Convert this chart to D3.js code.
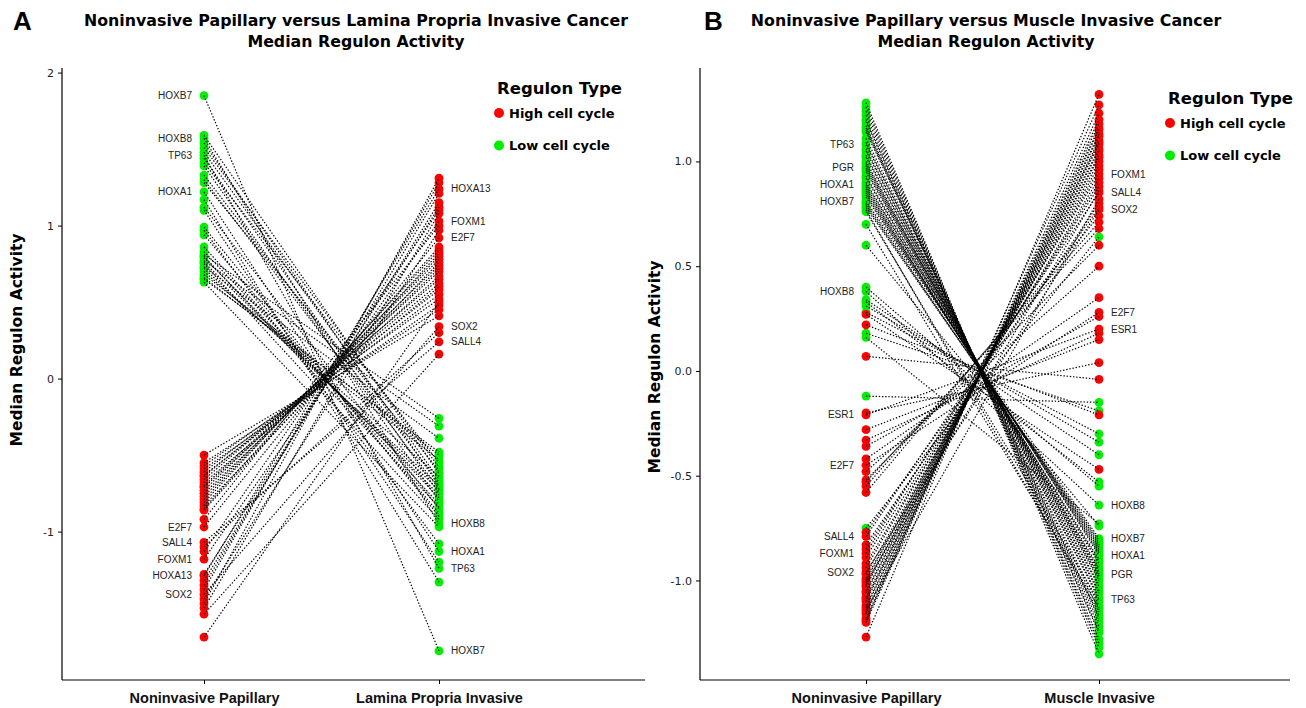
<!DOCTYPE html>
<html>
<head>
<meta charset="utf-8">
<script src="https://cdn.jsdelivr.net/npm/d3@7/dist/d3.min.js"></script>
<style>
  body { margin: 0; background: #fff; }
  svg { display: block; font-family: "DejaVu Sans", Verdana, sans-serif; }
</style>
</head>
<body>
<div id="chart"></div>
<script>
// ---- Panel A : Noninvasive Papillary vs Lamina Propria Invasive ----
var catsA = ["Noninvasive Papillary", "Lamina Propria Invasive"];

// low cell cycle regulons (green)
var aLowNames = ["HOXB7","","HOXB8","","","","TP63","","","","","","","HOXA1","","","","","","","","","","","","","","","","","","","","",""];
var aLowNP = [1.85,1.59,1.57,1.54,1.51,1.48,1.46,1.44,1.41,1.39,1.33,1.30,1.28,1.22,1.17,1.12,1.10,0.99,0.97,0.94,0.86,0.83,0.81,0.80,0.79,0.77,0.76,0.75,0.73,0.72,0.70,0.68,0.66,0.65,0.63];
var aLowLP = [-1.78,-0.62,-0.95,-0.70,-0.58,-0.66,-1.24,-0.75,-0.55,-0.80,-0.68,-0.72,-0.60,-1.13,-1.33,-0.85,-1.20,-0.90,-1.08,-0.88,-0.82,-0.78,-0.26,-0.84,-0.76,-0.31,-0.73,-0.92,-0.39,-0.70,-0.64,-0.50,-0.53,-0.48,-0.97];

// high cell cycle regulons (red)
var aHighNames = ["","","","","","","","","","","","","","","","","","","","","E2F7","SALL4","","","FOXM1","","HOXA13","","","","SOX2","","","","",""];
var aHighNP = [-0.50,-0.55,-0.57,-0.59,-0.61,-0.63,-0.64,-0.66,-0.68,-0.70,-0.71,-0.73,-0.75,-0.77,-0.79,-0.81,-0.83,-0.85,-0.86,-0.92,-0.97,-1.07,-1.10,-1.13,-1.18,-1.28,-1.29,-1.32,-1.35,-1.38,-1.41,-1.44,-1.47,-1.50,-1.54,-1.69];
var aHighLP = [0.41,0.45,0.52,0.48,0.58,0.55,0.62,0.65,0.60,0.70,0.67,0.74,0.72,0.78,0.80,0.84,0.76,0.86,0.82,1.00,0.92,0.24,0.30,1.10,1.03,1.12,1.24,1.15,1.21,1.28,0.34,0.97,1.31,1.08,0.16,0.50];

var aTicks = [-1, 0, 1, 2];

// ---- Panel B : Noninvasive Papillary vs Muscle Invasive ----
var catsB = ["Noninvasive Papillary", "Muscle Invasive"];

var bLowNames = ["","","","","","","","","","","","","TP63","","","","","","","","PGR","","","","","","HOXA1","","","","","","","HOXB7","","","","","","","","HOXB8","","","","","","","","",""];
var bLowNP = [1.28,1.26,1.24,1.22,1.20,1.19,1.17,1.16,1.15,1.14,1.11,1.09,1.08,1.06,1.05,1.03,1.02,1.00,0.99,0.98,0.97,0.96,0.95,0.93,0.92,0.90,0.89,0.88,0.87,0.86,0.85,0.84,0.83,0.81,0.80,0.79,0.78,0.77,0.76,0.70,0.60,0.38,0.40,0.34,0.33,0.31,0.28,0.18,0.16,-0.12,-0.75];
var bLowMI = [-1.35,-1.32,-1.30,-1.28,-1.25,-1.24,-1.22,-1.20,-1.18,-1.17,-1.14,-1.12,-1.09,-1.08,-1.06,-1.05,-1.03,-1.02,-1.00,-0.99,-0.97,-0.98,-0.96,-0.95,-0.94,-0.92,-0.88,-0.91,-0.90,-0.87,-0.86,-0.85,-0.84,-0.80,-0.83,-0.82,-0.81,-1.15,-1.10,-1.13,-0.74,-0.64,-0.55,-0.40,-0.53,-0.34,-0.30,-0.19,-0.73,-0.15,0.64];

var bHighNames = ["","","","","ESR1","","","","","E2F7","","","","","","","SALL4","","","FOXM1","","","","SOX2","","","","","","","","","","","","","","","","","","",""];
var bHighNP = [0.27,0.22,0.07,-0.20,-0.21,-0.28,-0.33,-0.36,-0.42,-0.45,-0.48,-0.52,-0.53,-0.55,-0.58,-0.77,-0.79,-0.83,-0.85,-0.87,-0.89,-0.92,-0.94,-0.96,-0.97,-0.99,-1.00,-1.01,-1.02,-1.03,-1.05,-1.06,-1.08,-1.09,-1.10,-1.12,-1.13,-1.14,-1.15,-1.16,-1.18,-1.19,-1.20,-1.27];
var bHighMI = [-0.47,-0.21,-0.04,0.04,0.20,0.15,0.18,0.26,0.35,0.28,0.50,0.60,0.68,0.71,0.74,0.78,0.85,0.80,0.88,0.94,0.90,0.92,0.96,0.77,0.98,1.00,1.02,0.86,1.03,1.05,1.06,1.08,1.09,1.10,1.12,1.13,1.15,0.82,1.16,1.18,1.20,1.27,1.23,1.32];

var bTicks = [-1, -0.5, 0, 0.5, 1];

var legendItems = ["High cell cycle", "Low cell cycle"];
var colors = { "High cell cycle": "#ff0000", "Low cell cycle": "#00ee00" };

var width = 1306, height = 708;
var svg = d3.select("#chart").append("svg")
    .attr("width", width)
    .attr("height", height);

function toRows(names, v1, v2, type) {
    return v1.map(function(d, i) {
        return { name: names[i] || "", a: d, b: v2[i], type: type };
    });
}

// ggplot style labels use a plain hyphen for negatives
function hyphen(f) {
    return function(d) { return f(d).replace("\u2212", "-"); };
}

function drawPanel(p) {
    var g = svg.append("g");
    var top = 68, bottom = 680;

    var x = d3.scalePoint().domain(p.cats).range([p.px0, p.px1]);
    var y = d3.scaleLinear().domain(p.yDomain).range([bottom, top]);

    // y axis
    var yAxis = d3.axisLeft(y).tickValues(p.ticks).tickFormat(hyphen(p.fmt)).tickSize(4).tickSizeOuter(0).tickPadding(4);
    var ya = g.append("g").attr("transform", "translate(" + p.left + ",0)").call(yAxis);
    ya.select(".domain").remove();
    ya.selectAll("text").style("font-size", "11px").style("fill", "#222").style("font-family", "DejaVu Sans, sans-serif");

    // x axis
    var xAxis = d3.axisBottom(x).tickSize(4).tickSizeOuter(0).tickPadding(9);
    var xa = g.append("g").attr("transform", "translate(0," + bottom + ")").call(xAxis);
    xa.select(".domain").remove();
    xa.selectAll("text").style("font-size", "14.5px").style("font-weight", "bold").style("fill", "#111");

    g.append("line").attr("x1", p.left).attr("x2", p.left).attr("y1", top).attr("y2", bottom)
        .attr("stroke", "#000").attr("stroke-width", 1.2);
    g.append("line").attr("x1", p.left).attr("x2", p.right).attr("y1", bottom).attr("y2", bottom)
        .attr("stroke", "#000").attr("stroke-width", 1.2);

    var rows = p.rows;
    var c0 = x(p.cats[0]), c1 = x(p.cats[1]);

    // points
    g.append("g").selectAll("circle").data(rows).enter().append("circle")
        .attr("cx", c0).attr("cy", function(d) { return y(d.a); })
        .attr("r", 4.4).attr("fill", function(d) { return colors[d.type]; });
    g.append("g").selectAll("circle").data(rows).enter().append("circle")
        .attr("cx", c1).attr("cy", function(d) { return y(d.b); })
        .attr("r", 4.4).attr("fill", function(d) { return colors[d.type]; });

    // dotted connecting lines
    g.append("g").selectAll("line").data(rows).enter().append("line")
        .attr("x1", c0).attr("y1", function(d) { return y(d.a); })
        .attr("x2", c1).attr("y2", function(d) { return y(d.b); })
        .attr("stroke", "#000").attr("stroke-width", 1.2)
        .attr("stroke-dasharray", "1.4,1.8");

    // labels
    var lab = rows.filter(function(d) { return d.name !== ""; });
    g.append("g").selectAll("text").data(lab).enter().append("text")
        .attr("x", c0 - 12).attr("y", function(d) { return y(d.a); })
        .attr("dy", "0.35em").attr("text-anchor", "end")
        .style("font-family", "Liberation Sans, Arial, sans-serif").style("font-size", "10px").style("fill", "#222")
        .text(function(d) { return d.name; });
    g.append("g").selectAll("text").data(lab).enter().append("text")
        .attr("x", c1 + 12).attr("y", function(d) { return y(d.b); })
        .attr("dy", "0.35em").attr("text-anchor", "start")
        .style("font-family", "Liberation Sans, Arial, sans-serif").style("font-size", "10px").style("fill", "#222")
        .text(function(d) { return d.name; });

    // y title
    g.append("text")
        .attr("transform", "translate(" + p.yTitleX + "," + p.yTitleY + ") rotate(-90)")
        .attr("text-anchor", "middle")
        .style("font-size", "15.5px").style("font-weight", "bold")
        .text("Median Regulon Activity");

    // title
    g.append("text").attr("x", p.titleX).attr("y", 26).attr("text-anchor", "middle")
        .style("font-size", "15.8px").style("font-weight", "bold").text(p.title);
    g.append("text").attr("x", p.titleX).attr("y", 47).attr("text-anchor", "middle")
        .style("font-size", "15.8px").style("font-weight", "bold").text("Median Regulon Activity");

    // panel letter
    g.append("text").attr("x", p.letterX).attr("y", 30)
        .style("font-size", "26px").style("font-weight", "bold")
        .style("font-family", "Liberation Sans, Arial, sans-serif").text(p.letter);

    // legend
    var lg = g.append("g").attr("transform", "translate(" + p.legX + "," + p.legY + ")");
    lg.append("text").attr("x", 0).attr("y", 3)
        .style("font-size", "16.5px").style("font-weight", "bold").text("Regulon Type");
    var li = lg.selectAll("g.item").data(legendItems).enter().append("g")
        .attr("transform", function(d, i) { return "translate(0," + (22 + i * 32.5) + ")"; });
    li.append("circle").attr("cx", 2).attr("cy", 0).attr("r", 5).attr("fill", function(d) { return colors[d]; });
    li.append("text").attr("x", 12).attr("y", 0).attr("dy", "0.35em")
        .style("font-size", "13px").style("font-weight", "bold").text(function(d) { return d; });
}

drawPanel({
    cats: catsA,
    rows: toRows(aLowNames, aLowNP, aLowLP, "Low cell cycle").concat(toRows(aHighNames, aHighNP, aHighLP, "High cell cycle")),
    yDomain: [-1.97, 2.03], ticks: aTicks, fmt: d3.format("d"),
    left: 62, right: 645, px0: 204, px1: 439,
    yTitleX: 22, yTitleY: 340,
    title: "Noninvasive Papillary versus Lamina Propria Invasive Cancer",
    titleX: 356, letter: "A", letterX: 13,
    legX: 497, legY: 91
});

drawPanel({
    cats: catsB,
    rows: toRows(bLowNames, bLowNP, bLowMI, "Low cell cycle").concat(toRows(bHighNames, bHighNP, bHighMI, "High cell cycle")),
    yDomain: [-1.475, 1.446], ticks: bTicks, fmt: d3.format(".1f"),
    left: 700, right: 1290, px0: 866, px1: 1099,
    yTitleX: 660, yTitleY: 367,
    title: "Noninvasive Papillary versus Muscle Invasive Cancer",
    titleX: 986, letter: "B", letterX: 704,
    legX: 1168, legY: 101
});
</script>
</body>
</html>
